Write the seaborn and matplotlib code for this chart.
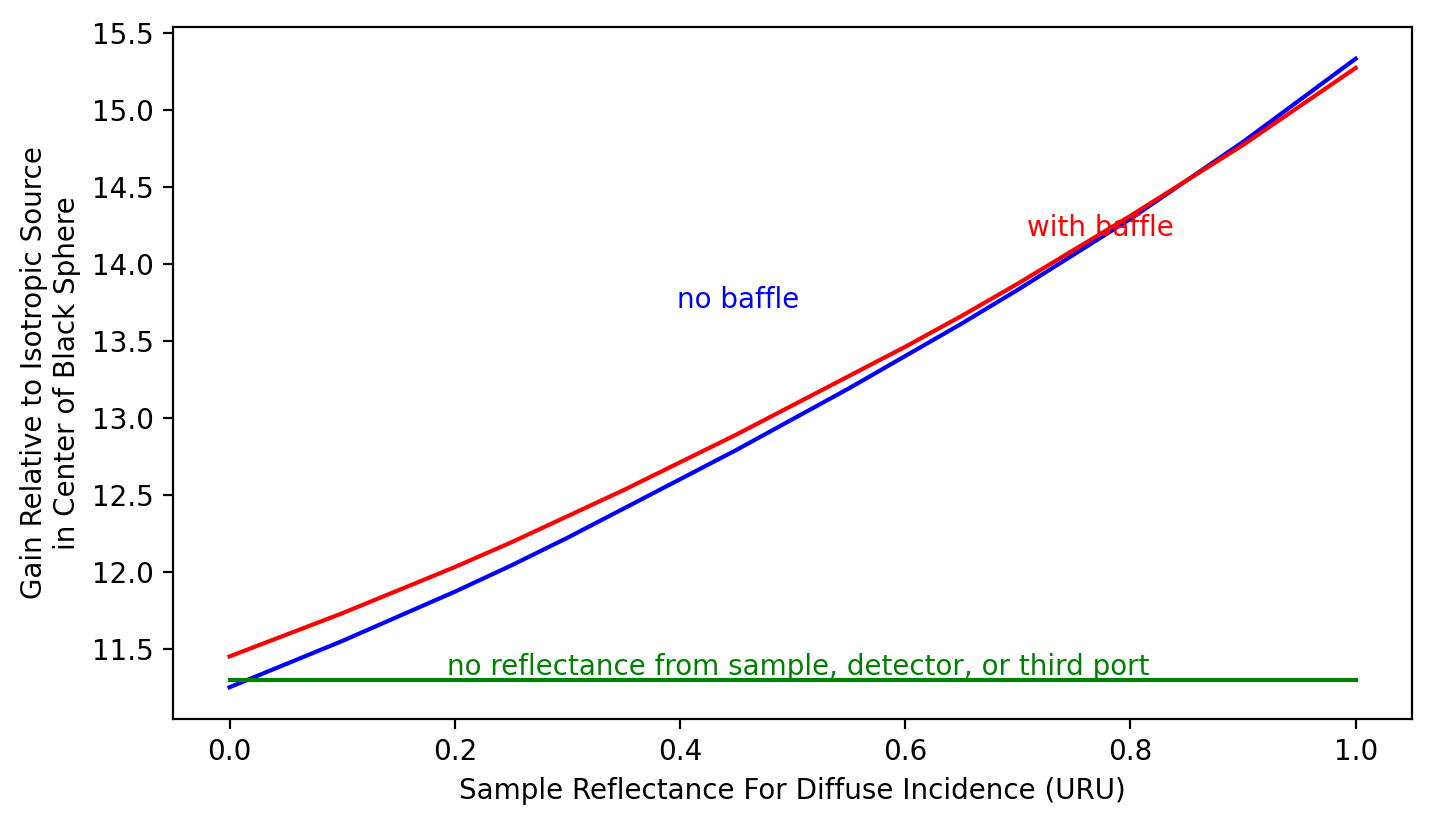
import numpy as np
import pandas as pd
import matplotlib
matplotlib.use('Agg')
import matplotlib.pyplot as plt
import seaborn as sns

# values
reflectance = [0.0, 0.05, 0.1, 0.15, 0.2, 0.25, 0.3, 0.35, 0.4, 0.45, 0.5,
               0.55, 0.6, 0.65, 0.7, 0.75, 0.8, 0.85, 0.9, 0.95, 1.0]
gain_no_baffle = [11.25, 11.40, 11.55, 11.71, 11.87, 12.04, 12.22, 12.41, 12.60, 12.79, 12.99,
                  13.19, 13.40, 13.61, 13.83, 14.06, 14.29, 14.54, 14.79, 15.06, 15.33]
gain_with_baffle = [11.45, 11.59, 11.73, 11.88, 12.03, 12.19, 12.36, 12.53, 12.71, 12.89, 13.08,
                    13.27, 13.46, 13.66, 13.87, 14.09, 14.31, 14.54, 14.77, 15.02, 15.27]
gain_black = [11.30] * len(reflectance)

df = pd.DataFrame({'r': reflectance, 'nb': gain_no_baffle,
                   'wb': gain_with_baffle, 'bl': gain_black})

fig, ax = plt.subplots(figsize=(7.16, 4.135), dpi=200)
plt.subplots_adjust(left=0.121, right=0.986, top=0.967, bottom=0.131)

sns.lineplot(data=df, x='r', y='nb', color='blue', ax=ax)
sns.lineplot(data=df, x='r', y='wb', color='red', ax=ax)
sns.lineplot(data=df, x='r', y='bl', color='green', ax=ax)

ax.text(0.397, 13.71, 'no baffle', color='blue')
ax.text(0.708, 14.18, 'with baffle', color='red')
ax.text(0.193, 11.33, 'no reflectance from sample, detector, or third port', color='green')

ax.set_xlabel('Sample Reflectance For Diffuse Incidence (URU)')
ax.set_ylabel('Gain Relative to Isotropic Source\nin Center of Black Sphere')

plt.savefig('out.png', dpi=200)
